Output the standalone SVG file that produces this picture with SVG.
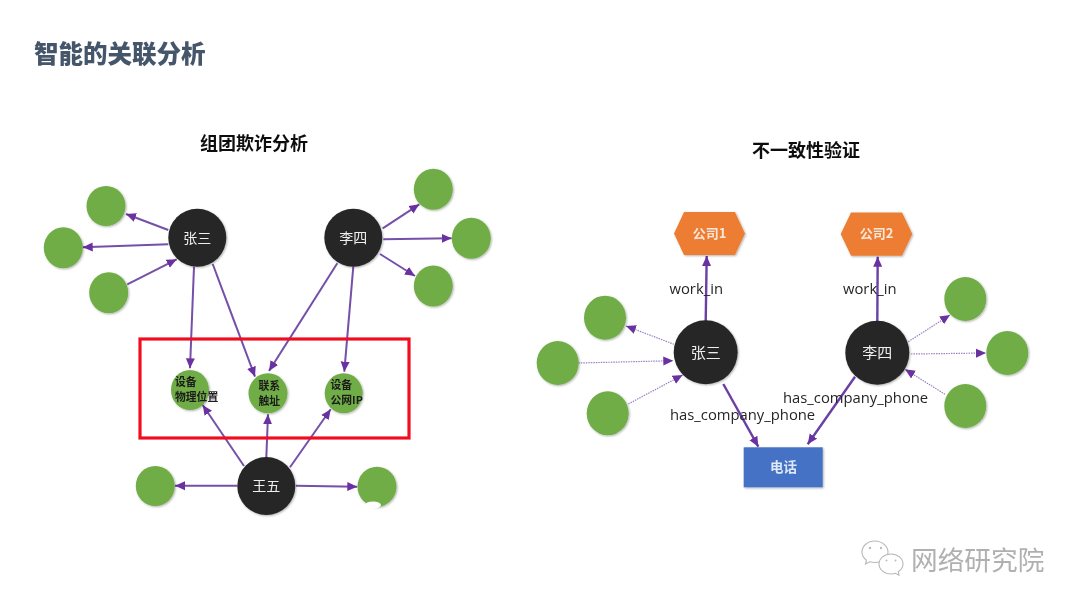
<svg xmlns="http://www.w3.org/2000/svg" width="1080" height="608" viewBox="0 0 1080 608">
<style>
text{font-family:"Liberation Sans","Noto Sans CJK SC",sans-serif}
.cjk{font-family:"Noto Sans CJK SC",sans-serif}
.h{font-family:"Noto Sans CJK SC",sans-serif;font-weight:700;font-size:18px;fill:#111;text-anchor:middle}
.g{fill:#70ad47}
.k{fill:#262626}
.w{font-family:"Noto Sans CJK SC",sans-serif;fill:#eee;font-size:14px;text-anchor:middle}
.s{font-family:"Noto Sans CJK SC",sans-serif;fill:#1a1a1a;font-size:10.8px;font-weight:700}
.e{font-family:"Open Sans",sans-serif;fill:#262626;font-size:14.8px}
.c line{stroke:#7450a8;stroke-width:2;marker-end:url(#a);fill:none}
.c line.d{stroke:#9a80c4;stroke-width:1.2;stroke-dasharray:1.5 1;marker-end:url(#a)}
.c line.f{stroke:#6a3fa5;stroke-width:2.4}
</style>
<defs>
<marker id="a" markerUnits="userSpaceOnUse" markerWidth="12" markerHeight="10" refX="10" refY="5" orient="auto"><path d="M0 0.5L10 5L0 9.5Z" fill="#6a30a0"/></marker>
<filter id="sh" x="-20%" y="-20%" width="150%" height="150%"><feDropShadow dx="1" dy="1" stdDeviation="1" flood-color="#000" flood-opacity=".3"/></filter>
<filter id="b" x="-5%" y="-5%" width="110%" height="110%"><feGaussianBlur stdDeviation="0.5"/></filter>
</defs>
<rect width="1080" height="608" fill="#fff"/>
<g filter="url(#b)">
<text id="title" x="34" y="63" font-size="24.5" font-weight="900" fill="#44546a" class="cjk">智能的关联分析</text>
<text id="h1" class="h" x="254" y="150">组团欺诈分析</text>
<text id="h2" class="h" x="806" y="157">不一致性验证</text>

<g id="connectors" class="c">
<line x1="168.3" y1="230" x2="126" y2="214"/>
<line x1="168.3" y1="244.3" x2="82.7" y2="247.3"/>
<line x1="127.3" y1="284.3" x2="176.7" y2="259.3"/>
<line x1="194" y1="266.7" x2="190" y2="368.3"/>
<line x1="212.7" y1="264" x2="255" y2="376.7"/>
<line x1="337.3" y1="263.3" x2="269" y2="371"/>
<line x1="353.3" y1="266.7" x2="344.3" y2="371.7"/>
<line x1="382.7" y1="228.3" x2="419.3" y2="204.3"/>
<line x1="383.3" y1="239.3" x2="451.7" y2="238.3"/>
<line x1="380" y1="254" x2="415" y2="276"/>
<line x1="244" y1="466" x2="202.7" y2="405"/>
<line x1="266.3" y1="457.7" x2="268" y2="414.3"/>
<line x1="290" y1="467.3" x2="330.7" y2="409.3"/>
<line x1="237.3" y1="485.7" x2="175" y2="485.7"/>
<line x1="296" y1="485.7" x2="357.3" y2="486.7"/>
<line class="f" x1="705.7" y1="321.7" x2="706.7" y2="256"/>
<line class="d" x1="674" y1="344.3" x2="626" y2="326"/>
<line class="d" x1="578.3" y1="363" x2="673.3" y2="360.7"/>
<line class="d" x1="628.3" y1="404" x2="682.7" y2="375"/>
<line class="f" x1="723.3" y1="384" x2="758.3" y2="446.7"/>
<line class="f" x1="877.3" y1="321.7" x2="877.7" y2="256.7"/>
<line class="d" x1="908.3" y1="341.7" x2="950" y2="315"/>
<line class="d" x1="911" y1="354" x2="986" y2="353"/>
<line class="d" x1="945" y1="394.3" x2="905" y2="369.3"/>
<line class="f" x1="855" y1="376.7" x2="807.7" y2="444.3"/>
</g>

<rect id="highlight" x="140" y="339" width="269" height="99" fill="none" stroke="#f01020" stroke-width="3.2"/>

<g id="L-zhang"><circle class="k" cx="197.3" cy="237.7" r="29" filter="url(#sh)"/><text class="w" x="197.3" y="243">张三</text></g>
<g id="L-li"><circle class="k" cx="353.3" cy="237.7" r="29" filter="url(#sh)"/><text class="w" x="353.3" y="243">李四</text></g>
<g id="L-wang"><circle class="k" cx="266.3" cy="486" r="29" filter="url(#sh)"/><text class="w" x="266.3" y="491">王五</text></g>
<g id="L-a"><ellipse class="g" cx="106" cy="206" rx="19.5" ry="20" filter="url(#sh)"/></g>
<g id="L-b"><ellipse class="g" cx="63.3" cy="247.7" rx="19.5" ry="20.5" filter="url(#sh)"/></g>
<g id="L-c"><ellipse class="g" cx="108.7" cy="292.7" rx="19.5" ry="20.5" filter="url(#sh)"/></g>
<g id="L-d"><ellipse class="g" cx="433.3" cy="189.3" rx="19.5" ry="20.5" filter="url(#sh)"/></g>
<g id="L-e"><ellipse class="g" cx="471.3" cy="238.3" rx="19.5" ry="20.5" filter="url(#sh)"/></g>
<g id="L-f"><ellipse class="g" cx="433.3" cy="286" rx="19.5" ry="20.5" filter="url(#sh)"/></g>
<g id="L-g"><ellipse class="g" cx="155.3" cy="486" rx="19.5" ry="20" filter="url(#sh)"/></g>
<g id="L-h"><ellipse class="g" cx="377" cy="486.7" rx="19.5" ry="20" filter="url(#sh)"/><ellipse cx="373" cy="505" rx="8" ry="3.500" fill="#fff"/></g>
<g id="L-dev"><ellipse class="g" cx="190" cy="390" rx="19" ry="20" filter="url(#sh)"/><text class="s" x="175" y="386">设备</text><text class="s" x="175" y="401">物理位置</text></g>
<g id="L-contact"><ellipse class="g" cx="268" cy="393.3" rx="19.5" ry="20" filter="url(#sh)"/><text class="s" x="258.5" y="389.5">联系</text><text class="s" x="258.5" y="404.5">触址</text></g>
<g id="L-ip"><ellipse class="g" cx="343.7" cy="393.3" rx="19" ry="20" filter="url(#sh)"/><text class="s" x="330.5" y="389">设备</text><text class="s" x="330.5" y="404">公网IP</text></g>

<g id="R-co1"><polygon points="674,233.5 684,212 735,212 745,233.5 735,255 684,255" fill="#ed7d31" filter="url(#sh)"/><text class="w" x="709.5" y="238" font-weight="700" style="fill:#f8e6d8;font-size:13px">公司1</text></g>
<g id="R-co2"><polygon points="840.7,234 851,212.5 902,212.5 912.3,234 902,255.8 851,255.8" fill="#ed7d31" filter="url(#sh)"/><text class="w" x="876.5" y="238" font-weight="700" style="fill:#f8e6d8;font-size:13px">公司2</text></g>
<g id="R-zhang"><circle class="k" cx="705.7" cy="352.3" r="32" filter="url(#sh)"/><text class="w" x="705.7" y="358" style="font-size:15px">张三</text></g>
<g id="R-li"><circle class="k" cx="877.3" cy="352.7" r="32" filter="url(#sh)"/><text class="w" x="877.3" y="358" style="font-size:15px">李四</text></g>
<g id="R-a"><ellipse class="g" cx="605" cy="317.7" rx="21" ry="22" filter="url(#sh)"/></g>
<g id="R-b"><ellipse class="g" cx="557.7" cy="363" rx="21" ry="22" filter="url(#sh)"/></g>
<g id="R-c"><ellipse class="g" cx="607.7" cy="413.3" rx="21" ry="22" filter="url(#sh)"/></g>
<g id="R-d"><ellipse class="g" cx="965.3" cy="299" rx="21" ry="22" filter="url(#sh)"/></g>
<g id="R-e"><ellipse class="g" cx="1007.3" cy="353" rx="21" ry="22" filter="url(#sh)"/></g>
<g id="R-f"><ellipse class="g" cx="965.3" cy="406" rx="21" ry="22" filter="url(#sh)"/></g>
<g id="R-phone"><rect x="743.7" y="447.3" width="79" height="40" fill="#4472c4" filter="url(#sh)"/><text class="w" x="783.5" y="472" font-weight="700" style="fill:#dfe8f6;font-size:13.5px">电话</text></g>

<g id="edge-labels">
<text class="e" x="669.5" y="294">work_in</text>
<text class="e" x="843" y="294">work_in</text>
<text class="e" x="670" y="420">has_company_phone</text>
<text class="e" x="783" y="403">has_company_phone</text>
</g>

<g id="watermark">
<g fill="#fff" stroke="#b8b8b8" stroke-width="1.1">
<path d="M875 541c-7.500 0-13 5-13 11 0 3.500 1.800 6.200 4.500 8.200l-1 3.800 4.400-2.200c1.500.4 3.300.7 5.100.7 7.200 0 13-5 13-10.500S882.200 541 875 541z"/>
<path d="M891 554c-6.500 0-12 4.500-12 10s5.500 10 12 10c1.500 0 3-.2 4.300-.7l3.700 2-.8-3.600c2.800-1.800 4.800-4.600 4.800-7.700 0-5.500-5.500-10-12-10z"/>
</g>
<g fill="#bbb"><circle cx="870" cy="548" r="1.200"/><circle cx="881" cy="548" r="1.200"/><circle cx="886.500" cy="560.500" r="1"/><circle cx="895.500" cy="560.500" r="1"/></g>
<text class="cjk" x="911" y="570" font-size="26.700" fill="#b0b0b0">网络研究院</text>
</g>
</g>
</svg>
